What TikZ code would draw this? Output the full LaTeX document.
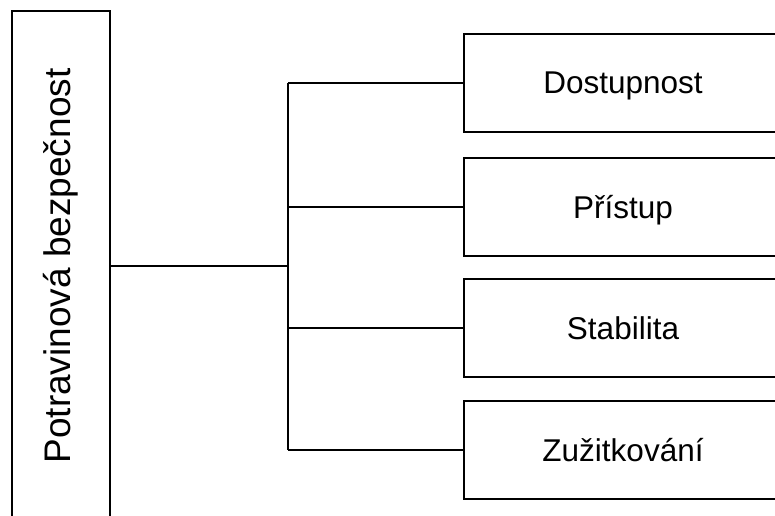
\documentclass[tikz,border=0pt]{standalone}
\usepackage{fontspec}
\setmainfont{Liberation Sans}
\begin{document}
\begin{tikzpicture}[x=1pt,y=-1pt,
  box/.style={draw, line width=2pt, inner sep=0pt},
  side/.style={box, minimum width=318pt, minimum height=98pt, text depth=0pt, font=\fontsize{31.5}{38}\selectfont},
  link/.style={line width=2pt}]
\useasboundingbox (0,0) rectangle (775,515);
\clip (0,0) rectangle (775,515);
\node[box, rotate=90, minimum width=510pt, minimum height=98pt,
      font=\fontsize{37}{44}\selectfont] (main) at (61,266) {Potravinová bezpečnost};
\node[side] (b1) at (623,83) {Dostupnost};
\node[side] (b2) at (623,207) {Přístup};
\node[side] (b3) at (623,328) {Stabilita};
\node[side] (b4) at (623,449.5) {Zužitkování};
\coordinate (bus) at (288,266);
\draw[link] (main.south) -- (bus);
\draw[link] (b1.west -| bus) -- (b4.west -| bus);
\foreach \b in {b1,b2,b3,b4} \draw[link] (\b.west -| bus) -- (\b.west);
\end{tikzpicture}
\end{document}
